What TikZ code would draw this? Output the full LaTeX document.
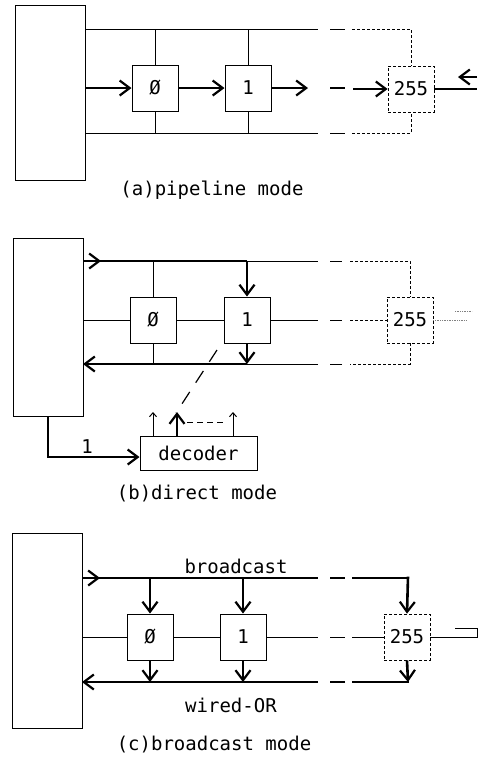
\documentclass[tikz,border=0pt]{standalone}
\usepackage{fontspec}
\newfontfamily\plotfont{DejaVu Sans Mono}
\usetikzlibrary{arrows.meta,positioning}
\tikzset{
  wire/.style={line width=1pt},
  farwire/.style={line width=0.8pt, densely dashed},
  bus/.style={line width=2.6pt},
  barb/.style={-{Straight Barb[length=10pt,width=15pt,line width=2.2pt]}},
  smallbarb/.style={-{Straight Barb[length=4pt,width=7pt]}},
  txt/.style={font=\plotfont\fontsize{19}{19}\selectfont, inner sep=0pt},
  pe/.style={draw, wire, txt, minimum width=46pt, minimum height=46pt},
  pefar/.style={pe, densely dashed, line width=0.7pt},
  host/.style={draw, wire, anchor=north west, inner sep=0pt}
}
\begin{document}
\begin{tikzpicture}[x=1pt,y=-1pt]
  \useasboundingbox (0,0) rectangle (477,761);
  % (a) pipeline mode
  \node[host, minimum width=70pt, minimum height=175pt] (hostA) at (15,5) {};
  \node[pe] (a0) at (155,88) {Ø};
  \node[pe] (a1) at (248,88) {1};
  \node[pefar] (a255) at (411,89) {255};
  \draw[wire] (85,29) -- (318,29) (330,29) -- (345,29);
  \draw[farwire] (352,29) -- (411,29) -- (a255.north);
  \draw[wire] (85,133) -- (318,133) (330,133) -- (345,133);
  \draw[farwire] (352,133) -- (411,133) -- (a255.south);
  \draw[wire] (a0.north) -- (155,29) (a0.south) -- (155,133);
  \draw[wire] (a1.north) -- (248,29) (a1.south) -- (248,133);
  \draw[bus,barb] (85,88) -- (a0.west);
  \draw[bus,barb] (a0.east) -- (a1.west);
  \draw[bus,barb] (a1.east) -- (308,88);
  \draw[bus] (330,88) -- (345,88);
  \draw[bus,barb] (353,89) -- (a255.west);
  \draw[line width=1.8pt] (a255.east) -- (477,89);
  \draw[bus,barb] (477,77) -- (458,77);
  \node[txt] (capA) at (212,190) {(a)pipeline mode};
  % (b) direct mode
  \node[host, minimum width=70pt, minimum height=178pt] (hostB) at (13,238) {};
  \node[pe] (b0) at (153,320) {Ø};
  \node[pe] (b1) at (247,320) {1};
  \node[pefar] (b255) at (410,320) {255};
  \draw[bus] (83,261) -- (247,261);
  \draw[bus,barb] (83,261) -- (101,261);
  \draw[bus,barb] (247,261) -- (b1.north);
  \draw[wire] (b0.north) -- (153,261);
  \draw[wire] (247,261) -- (318,261) (330,261) -- (342,261);
  \draw[farwire] (350,261) -- (410,261) -- (b255.north);
  \draw[wire] (83,320) -- (b0.west) (b0.east) -- (b1.west);
  \draw[wire] (b1.east) -- (318,320) (330,320) -- (342,320);
  \draw[farwire] (350,320) -- (b255.west);
  \draw[gray, densely dotted, line width=0.7pt] (b255.east) -- (466,320) (455,311) -- (472,311);
  \draw[farwire] (b255.south) -- (410,364) -- (350,364);
  \draw[wire] (342,364) -- (330,364) (318,364) -- (247,364);
  \draw[bus,barb] (247,364) -- (83,364);
  \draw[bus,barb] (b1.south) -- (247,364);
  \draw[wire] (b0.south) -- (153,364);
  \node[draw, wire, txt, minimum width=117pt, minimum height=34pt] (dec) at (198.5,453) {decoder};
  \draw[line width=1.2pt, dash pattern=on 14pt off 11pt] (217,350) -- (176,413);
  \draw[bus,barb] (dec.north -| 177,0) -- (177,412);
  \draw[wire,smallbarb] (dec.north -| 153,0) -- (153,412);
  \draw[wire,smallbarb] (dec.north -| 233,0) -- (233,412);
  \draw[wire, dash pattern=on 6pt off 4pt] (187,422) -- (224,422);
  \draw[bus,barb] (hostB.south -| 48,0) |- ([yshift=-4pt]dec.west);
  \node[txt] (width) at (87,447) {1};
  \node[txt] (capB) at (197,494) {(b)direct mode};
  % (c) broadcast mode
  \node[host, minimum width=70pt, minimum height=195pt] (hostC) at (12,533) {};
  \node[pe] (c0) at (150,637) {Ø};
  \node[pe] (c1) at (243,637) {1};
  \node[pe, densely dashed, line width=0.7pt] (c255) at (407,637) {255};
  \draw[bus] (82,578) -- (318,578) (330,578) -- (345,578) (352,578) -- (408,578);
  \draw[bus,barb] (82,578) -- (100,578);
  \draw[bus,barb] (408,576.7) -- (c255.north);
  \draw[bus,barb] (150,578) -- (c0.north);
  \draw[bus,barb] (243,578) -- (c1.north);
  \node[txt] (bcast) at (236,566) {broadcast};
  \draw[wire] (82,637) -- (c0.west) (c0.east) -- (c1.west);
  \draw[wire] (c1.east) -- (318,637) (330,637) -- (345,637) (352,637) -- (c255.west);
  \draw[wire] (c255.east) -- (477,637) -- (477,628) -- (455,628);
  \draw[bus] (409,682) -- (352,682) (345,682) -- (330,682);
  \draw[bus,barb] (318,682) -- (82,682);
  \draw[bus,barb] (c0.south) -- (150,682);
  \draw[bus,barb] (c1.south) -- (243,682);
  \draw[bus,barb] (c255.south) -- (408,682);
  \node[txt] (wor) at (231,705) {wired-OR};
  \node[txt] (capC) at (214,745) {(c)broadcast mode};
\end{tikzpicture}
\end{document}
